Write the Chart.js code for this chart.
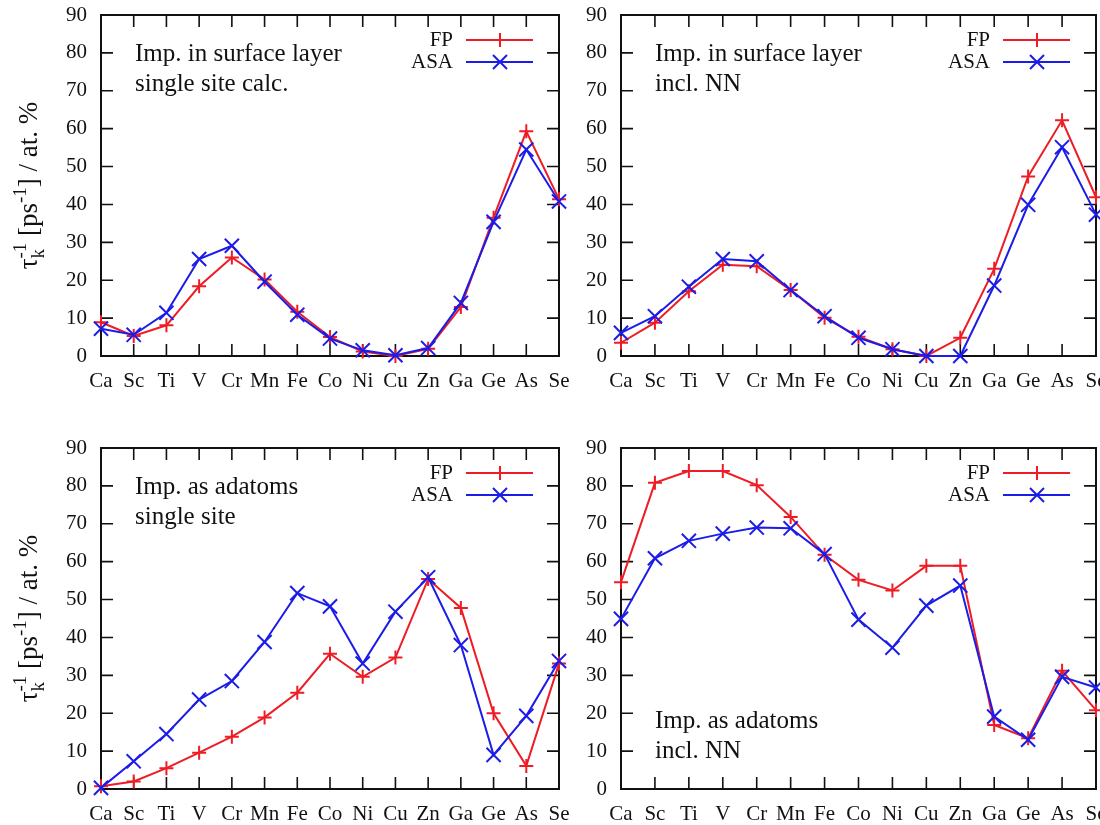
<!DOCTYPE html>
<html>
<head>
<meta charset="utf-8">
<script src="https://cdn.jsdelivr.net/npm/chart.js@4.4.1/dist/chart.umd.min.js"></script>
<style>
  html, body { margin: 0; background: #fff; overflow: hidden; }
  #wrap { position: relative; width: 1100px; height: 825px; overflow: hidden; }
  #wrap canvas { position: absolute; }
</style>
</head>
<body>
<div id="wrap">
  <canvas id="surfSingle" width="600" height="424" style="left:0;top:-12px"></canvas>
  <canvas id="surfNN" width="600" height="424" style="left:540px;top:-12px"></canvas>
  <canvas id="adSingle" width="600" height="424" style="left:0;top:421px"></canvas>
  <canvas id="adNN" width="600" height="424" style="left:540px;top:421px"></canvas>
</div>
<script>
// 3d/4s/4p impurities
const elements = ["Ca", "Sc", "Ti", "V", "Cr", "Mn", "Fe", "Co", "Ni", "Cu", "Zn", "Ga", "Ge", "As", "Se"];
const yMin = 0, yMax = 90, yStep = 10;

// impurity in surface layer, single site calc.
const surfSingleFP  = [8.9, 5.3, 8.1, 18.4, 26.0, 20.2, 11.7, 5.0, 1.2, 0.0, 1.9, 12.9, 36.5, 59.3, 41.4];
const surfSingleASA = [7.2, 5.6, 11.4, 25.6, 29.1, 19.6, 10.9, 4.6, 1.5, 0.2, 2.1, 14.0, 35.4, 54.5, 40.8];
// impurity in surface layer, incl. NN
const surfNNFP  = [3.5, 8.8, 17.1, 24.1, 23.7, 17.4, 10.1, 5.1, 1.8, 0.0, 4.8, 23.0, 47.4, 62.2, 41.9];
const surfNNASA = [6.1, 10.5, 18.3, 25.6, 25.0, 17.4, 10.5, 4.8, 1.8, 0.0, 0.0, 18.6, 39.9, 55.1, 37.3];
// adatoms, single site
const adSingleFP  = [0.7, 2.0, 5.5, 9.6, 13.8, 18.9, 25.4, 35.7, 29.6, 34.7, 55.4, 47.8, 20.0, 6.1, 33.1];
const adSingleASA = [0.3, 7.3, 14.5, 23.6, 28.5, 38.8, 51.7, 48.2, 33.1, 46.8, 55.9, 38.0, 9.0, 19.3, 33.8];
// adatoms, incl. NN
const adNNFP  = [54.6, 80.8, 83.9, 83.9, 80.2, 71.8, 61.8, 55.2, 52.4, 58.9, 58.9, 16.9, 13.4, 31.2, 20.8];
const adNNASA = [44.9, 60.9, 65.5, 67.4, 69.0, 68.8, 62.0, 44.7, 37.3, 48.4, 53.7, 19.1, 13.0, 29.6, 26.8];

const RED = "#ee1c24";
const BLUE = "#1c1ce8";
const FONT = "'Liberation Serif', 'Times New Roman', serif";
const INK = "#111";

// gnuplot-like markers: "+" for FP, "x" for ASA
function marker(ctx, style, x, y, r) {
  ctx.beginPath();
  if (style === "cross") {
    ctx.moveTo(x - r, y); ctx.lineTo(x + r, y);
    ctx.moveTo(x, y - r); ctx.lineTo(x, y + r);
  } else {
    ctx.moveTo(x - r, y - r); ctx.lineTo(x + r, y + r);
    ctx.moveTo(x - r, y + r); ctx.lineTo(x + r, y - r);
  }
  ctx.stroke();
}

// rotated axis title  tau_k^-1 [ps^-1] / at. %
function drawYTitle(ctx, cx, cy) {
  const fs = 27;
  const parts = [
    { t: "τ", s: 1, dy: 0 },
    { t: "k", s: 0.7, dy: 0.28, stack: true },
    { t: "-1", s: 0.7, dy: -0.42 },
    { t: " [ps", s: 1, dy: 0 },
    { t: "-1", s: 0.7, dy: -0.42 },
    { t: "] / at. %", s: 1, dy: 0 }
  ];
  ctx.save();
  ctx.translate(cx, cy);
  ctx.rotate(-Math.PI / 2);
  ctx.fillStyle = INK;
  ctx.textBaseline = "alphabetic";
  ctx.textAlign = "left";
  let total = 0;
  parts.forEach(p => {
    ctx.font = (fs * p.s) + "px " + FONT;
    p.w = ctx.measureText(p.t).width;
    if (!p.stack) total += p.w;
  });
  let x = -total / 2;
  const base = fs * 0.33;
  parts.forEach(p => {
    ctx.font = (fs * p.s) + "px " + FONT;
    ctx.fillText(p.t, x, base + p.dy * fs);
    if (!p.stack) x += p.w;
  });
  ctx.restore();
}

// frame with inward ticks on all sides, note, key and axis title
const panelPlugin = {
  id: "panel",
  beforeDatasetsDraw(chart, args, opts) {
    const { ctx, chartArea: a, scales } = chart;
    ctx.save();
    ctx.strokeStyle = INK;
    ctx.lineWidth = 1.6;
    const tl = 12;
    ctx.beginPath();
    for (let v = yMin; v <= yMax; v += yStep) {
      const y = scales.y.getPixelForValue(v);
      ctx.moveTo(a.left, y); ctx.lineTo(a.left + tl, y);
      ctx.moveTo(a.right, y); ctx.lineTo(a.right - tl, y);
    }
    elements.forEach((e, i) => {
      const x = scales.x.getPixelForValue(i);
      ctx.moveTo(x, a.bottom); ctx.lineTo(x, a.bottom - tl);
      ctx.moveTo(x, a.top); ctx.lineTo(x, a.top + tl);
    });
    ctx.stroke();
    ctx.lineWidth = 2;
    ctx.strokeRect(a.left, a.top, a.right - a.left, a.bottom - a.top);
    ctx.restore();
  },
  afterDraw(chart, args, opts) {
    const { ctx, chartArea: a } = chart;
    ctx.save();
    ctx.fillStyle = INK;
    ctx.font = "25px " + FONT;
    ctx.textBaseline = "middle";
    ctx.textAlign = "left";
    opts.note.forEach((line, i) => {
      const y = opts.noteAtBottom ? a.bottom - 68 + i * 30 : a.top + 39 + i * 30;
      ctx.fillText(line, a.left + 34, y);
    });
    // key
    ctx.font = "21px " + FONT;
    ctx.textAlign = "right";
    chart.data.datasets.forEach((ds, i) => {
      const y = a.top + 25 + i * 22;
      ctx.fillStyle = INK;
      ctx.fillText(ds.label, a.right - 106, y);
      ctx.strokeStyle = ds.borderColor;
      ctx.lineWidth = 2;
      ctx.beginPath();
      ctx.moveTo(a.right - 93, y); ctx.lineTo(a.right - 26, y);
      ctx.stroke();
      marker(ctx, ds.pointStyle, a.right - 59, y, 7);
    });
    if (opts.yTitle) drawYTitle(ctx, 28, (a.top + a.bottom) / 2);
    ctx.restore();
  }
};

function makePanel(id, fp, asa, note, opts) {
  new Chart(document.getElementById(id), {
    type: "line",
    data: {
      labels: elements,
      datasets: [
        {
          label: "FP", data: fp, borderColor: RED, backgroundColor: RED,
          borderWidth: 2, pointStyle: "cross", pointRadius: 7, pointBorderWidth: 2,
          pointHoverRadius: 7, order: 1, clip: false
        },
        {
          label: "ASA", data: asa, borderColor: BLUE, backgroundColor: BLUE,
          borderWidth: 2, pointStyle: "crossRot", pointRadius: 10, pointBorderWidth: 2,
          pointHoverRadius: 10, order: 0, clip: false
        }
      ]
    },
    options: {
      responsive: false,
      animation: false,
      layout: { padding: { top: 27, right: opts.padRight, left: 0, bottom: 0 } },
      plugins: {
        legend: { display: false },
        tooltip: { enabled: false },
        panel: { note: note, noteAtBottom: !!opts.noteAtBottom, yTitle: !!opts.yTitle }
      },
      scales: {
        x: {
          type: "category",
          offset: false,
          grid: { display: false, drawTicks: false },
          border: { display: false },
          ticks: { color: INK, font: { family: FONT, size: 21 }, padding: 13, maxRotation: 0, autoSkip: false },
          afterFit(s) { s.height = 56; }
        },
        y: {
          min: yMin, max: yMax,
          grid: { display: false, drawTicks: false },
          border: { display: false },
          ticks: { stepSize: yStep, color: INK, font: { family: FONT, size: 21 }, padding: 14 },
          afterFit(s) { s.width = opts.yWidth; }
        }
      }
    },
    plugins: [panelPlugin]
  });
}

makePanel("surfSingle", surfSingleFP, surfSingleASA, ["Imp. in surface layer", "single site calc."],
  { yWidth: 101, padRight: 41, yTitle: true });
makePanel("surfNN", surfNNFP, surfNNASA, ["Imp. in surface layer", "incl. NN"],
  { yWidth: 81, padRight: 44 });
makePanel("adSingle", adSingleFP, adSingleASA, ["Imp. as adatoms", "single site"],
  { yWidth: 101, padRight: 41, yTitle: true });
makePanel("adNN", adNNFP, adNNASA, ["Imp. as adatoms", "incl. NN"],
  { yWidth: 81, padRight: 44, noteAtBottom: true });
</script>
</body>
</html>
